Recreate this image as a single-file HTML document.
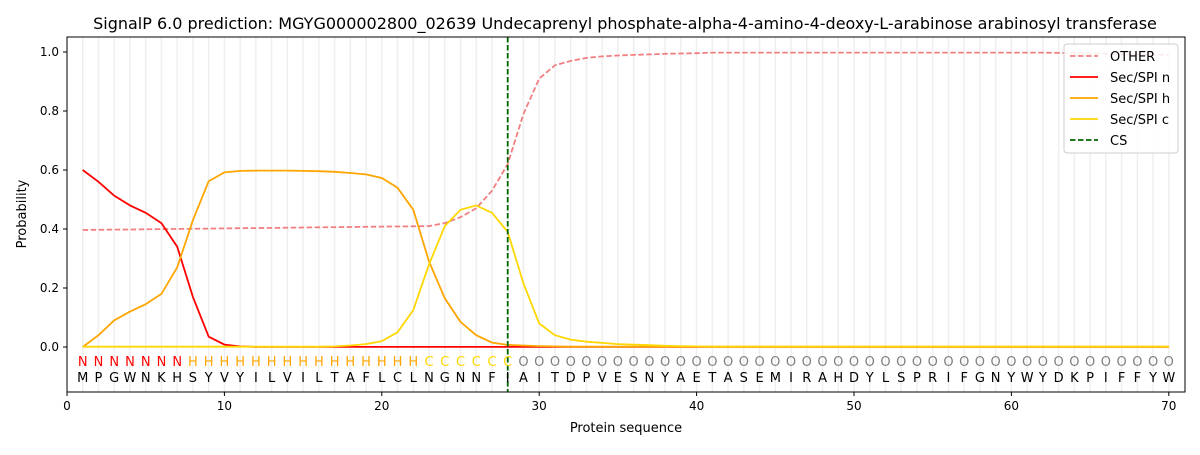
<!DOCTYPE html>
<html><head><meta charset="utf-8"><style>
body{margin:0;background:#fff;width:1200px;height:450px;overflow:hidden}
text{font-family:"DejaVu Sans","Liberation Sans",sans-serif}
</style></head><body>
<svg id="s" width="1200" height="450" xmlns="http://www.w3.org/2000/svg"></svg>
<script>
const s=document.getElementById('s');
const X=v=>67+v*15.74, Y=p=>347-p*295;
let h='';
h+='<text x="625" y="29" font-size="16" text-anchor="middle">SignalP 6.0 prediction: MGYG000002800_02639 Undecaprenyl phosphate-alpha-4-amino-4-deoxy-L-arabinose arabinosyl transferase</text>';
for(let i=1;i<=70;i++)h+=`<line x1="${X(i)}" x2="${X(i)}" y1="37" y2="392" stroke="#efefef" stroke-width="1.5"/>`;
function line(d,col,dash){let p=d.map((v,i)=>X(i+1).toFixed(1)+','+Y(v).toFixed(1)).join(' ');h+=`<polyline points="${p}" fill="none" stroke="${col}" stroke-width="1.8" ${dash?'stroke-dasharray="5.5,2.5"':''}/>`;}
const fill=(a,n,v)=>{while(a.length<n)a.push(v);return a};
let O=[];for(let i=1;i<=22;i++)O.push(0.396+0.0006*i);
O.push(0.41,0.42,0.44,0.47,0.53,0.62,0.79,0.91,0.955,0.97,0.98,0.985,0.988,0.99,0.992,0.994,0.995,0.996);
fill(O,61,0.998);O.push(0.998,0.997,0.996,0.995,0.994,0.993,0.992,0.991,0.99);
let n=[0.60,0.56,0.513,0.48,0.455,0.42,0.34,0.17,0.035,0.008,0.002];fill(n,70,0.0005);
let hh=[0,0.04,0.09,0.12,0.145,0.18,0.27,0.43,0.562,0.592,0.597,0.598,0.598,0.598,0.597,0.596,0.594,0.59,0.585,0.573,0.54,0.465,0.29,0.165,0.085,0.04,0.015,0.007,0.005,0.003,0.002];fill(hh,70,0.001);
let c=[];fill(c,16,0.001);c.push(0.002,0.005,0.01,0.02,0.05,0.125,0.28,0.41,0.465,0.48,0.455,0.39,0.215,0.08,0.04,0.025,0.018,0.014,0.01,0.008,0.006,0.004,0.003,0.002);fill(c,70,0.001);
line(O,'#f08080',true);line(n,'#ff0000');line(hh,'#ffa500');line(c,'#ffd700');
h+=`<line x1="${X(28)}" x2="${X(28)}" y1="37" y2="392" stroke="#006400" stroke-width="1.8" stroke-dasharray="5.5,2.5"/>`;
const seq="MPGWNKHSYVYILVILTAFLCLNGNNFIAITDPVESNYAETASEMIRAHDYLSPRIFGNYWYDKPIFFYW";
for(let i=1;i<=70;i++){let l,cc;if(i<=7){l='N';cc='#ff0000'}else if(i<=22){l='H';cc='#ffa500'}else if(i<=28){l='C';cc='#ffd700'}else{l='O';cc='#808080'}
h+=`<text x="${X(i)}" y="366" font-size="13" fill="${cc}" text-anchor="middle">${l}</text><text x="${X(i)}" y="382" font-size="13" text-anchor="middle">${seq[i-1]}</text>`;}
h+='<rect x="67" y="37" width="1118" height="355" fill="none" stroke="#000" stroke-width="1"/>';
for(let t=0;t<=70;t+=10)h+=`<line x1="${X(t)}" x2="${X(t)}" y1="392" y2="396" stroke="#000"/><text x="${X(t)}" y="410" font-size="12" text-anchor="middle">${t}</text>`;
for(let k=0;k<=5;k++){let p=k*0.2;h+=`<line x1="63" x2="67" y1="${Y(p)}" y2="${Y(p)}" stroke="#000"/><text x="59" y="${Y(p)+4}" font-size="12" text-anchor="end">${p.toFixed(1)}</text>`;}
h+='<text x="626" y="432" font-size="13" text-anchor="middle">Protein sequence</text>';
h+='<text transform="translate(26,214) rotate(-90)" font-size="13" text-anchor="middle">Probability</text>';
h+='<rect x="1064" y="44" width="114" height="109" rx="3" fill="#fff" fill-opacity="0.85" stroke="#ccc"/>';
const L=[['OTHER','#f08080',1],['Sec/SPI n','#ff0000',0],['Sec/SPI h','#ffa500',0],['Sec/SPI c','#ffd700',0],['CS','#006400',1]];
L.forEach((e,i)=>{let y=56+i*21;h+=`<line x1="1070" x2="1098" y1="${y}" y2="${y}" stroke="${e[1]}" stroke-width="1.8" ${e[2]?'stroke-dasharray="5.5,2.5"':''}/><text x="1110" y="${y+5}" font-size="13">${e[0]}</text>`;});
s.innerHTML=h;
</script>
</body></html>
